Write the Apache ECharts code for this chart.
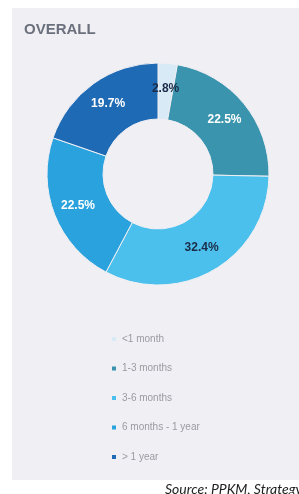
<!DOCTYPE html>
<html>
<head>
<meta charset="utf-8">
<script src="https://cdn.jsdelivr.net/npm/echarts@6/dist/echarts.min.js"></script>
<style>
  html, body { margin: 0; padding: 0; background: #ffffff; }
  #chart { width: 299px; height: 494px; }
</style>
</head>
<body>
<div id="chart"></div>
<script>
// tenure buckets and share (%)
const categories = ['<1 month', '1-3 months', '3-6 months', '6 months - 1 year', '> 1 year']
const shares = [2.8, 22.5, 32.4, 22.5, 19.7]
const colors = ['#d8eaf6', '#3a94ad', '#4bc0ec', '#2aa2dd', '#1f6ab4']
const labelColors = ['#1c2b48', '#ffffff', '#1c2b48', '#ffffff', '#ffffff']

const chart = echarts.init(document.getElementById('chart'))
const option = {
  animation: false,
  graphic: [
    {
      type: 'rect',
      z: -10,
      shape: { x: 12, y: 8, width: 287, height: 472 },
      style: { fill: '#f0eff4' }
    },
    {
      type: 'text',
      left: 165,
      top: 482,
      style: {
        text: 'Source: PPKM, Strategy&',
        font: 'italic 14px Lato',
        fill: '#222222'
      }
    }
  ],
  title: {
    text: 'OVERALL',
    left: 19,
    top: 17,
    textStyle: {
      color: '#6b707d',
      fontWeight: 'bold',
      fontSize: 15,
      fontFamily: 'Liberation Sans'
    }
  },
  color: colors,
  legend: {
    orient: 'vertical',
    left: 110,
    top: 333,
    padding: 0,
    itemWidth: 6,
    itemHeight: 6,
    itemGap: 17.5,
    icon: 'rect',
    textStyle: {
      color: '#9a9aa2',
      fontSize: 10,
      lineHeight: 12,
      fontFamily: 'Liberation Sans'
    },
    data: categories
  },
  series: [
    {
      type: 'pie',
      center: [158, 174],
      radius: [55, 111],
      startAngle: 90,
      clockwise: true,
      itemStyle: { borderColor: '#f0eff4', borderWidth: 1 },
      label: {
        position: 'inside',
        fontSize: 12,
        fontWeight: 'bold',
        fontFamily: 'Liberation Sans',
        formatter: p => p.value.toFixed(1) + '%'
      },
      labelLine: { show: false },
      data: categories.map((name, i) => ({
        name: name,
        value: shares[i],
        label: { color: labelColors[i] }
      }))
    }
  ]
}
chart.setOption(option)
</script>
</body>
</html>
